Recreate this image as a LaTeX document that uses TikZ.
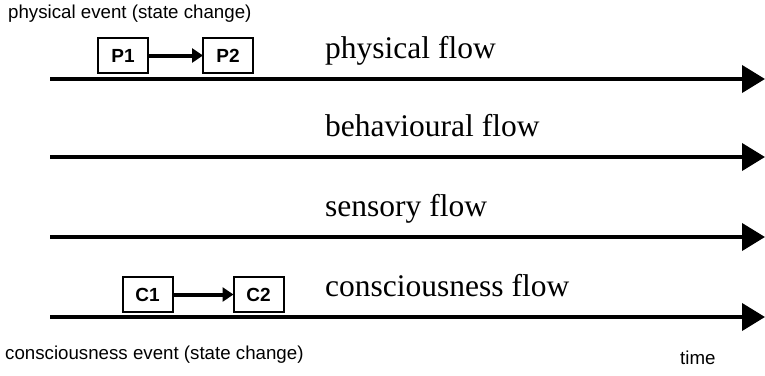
\documentclass[tikz,border=0pt]{standalone}
\usepackage{fontspec}
\setmainfont{Liberation Serif}
\setsansfont{Liberation Sans}
\usetikzlibrary{arrows.meta}
\begin{document}
\begin{tikzpicture}[x=1pt,y=-1pt,
  flowline/.style={line width=4pt,-{Triangle[length=23pt,width=27pt]}},
  evbox/.style={draw,line width=2pt,minimum width=50pt,minimum height=35pt,inner sep=0pt,font=\sffamily\bfseries\fontsize{19}{22}\selectfont},
  evarrow/.style={line width=4pt,-{Triangle[length=11pt,width=14pt]},shorten >=-1pt},
  flowlabel/.style={anchor=base west,inner sep=0pt,font=\rmfamily\fontsize{31.5}{36}\selectfont},
  smalllabel/.style={anchor=west,inner sep=0pt,font=\sffamily\fontsize{18.7}{22}\selectfont}]
\useasboundingbox (0,0) rectangle (765,375);
\coordinate (s1) at (50,79);  \coordinate (e1) at (765,79);
\coordinate (s2) at (50,157); \coordinate (e2) at (765,157);
\coordinate (s3) at (50,237); \coordinate (e3) at (765,237);
\coordinate (s4) at (50,317); \coordinate (e4) at (765,317);
\draw[flowline] (s1) -- (e1);
\draw[flowline] (s2) -- (e2);
\draw[flowline] (s3) -- (e3);
\draw[flowline] (s4) -- (e4);
\node[flowlabel] (l1) at (325,58) {physical flow};
\node[flowlabel] (l2) at (325,136.5) {behavioural flow};
\node[flowlabel] (l3) at (325,216) {sensory flow};
\node[flowlabel] (l4) at (325,296) {consciousness flow};
\node[evbox] (p1) at (123,55.5) {P1};
\node[evbox] (p2) at (228,55.5) {P2};
\draw[evarrow] (p1) -- (p2);
\node[evbox] (c1) at (147.5,294.5) {C1};
\node[evbox] (c2) at (258.5,294.5) {C2};
\draw[evarrow] (c1) -- (c2);
\node[smalllabel] (t1) at (8,14) {physical event (state change)};
\node[smalllabel] (t2) at (5,355) {consciousness event (state change)};
\node[smalllabel] (t3) at (680,358) {time};
\end{tikzpicture}
\end{document}
